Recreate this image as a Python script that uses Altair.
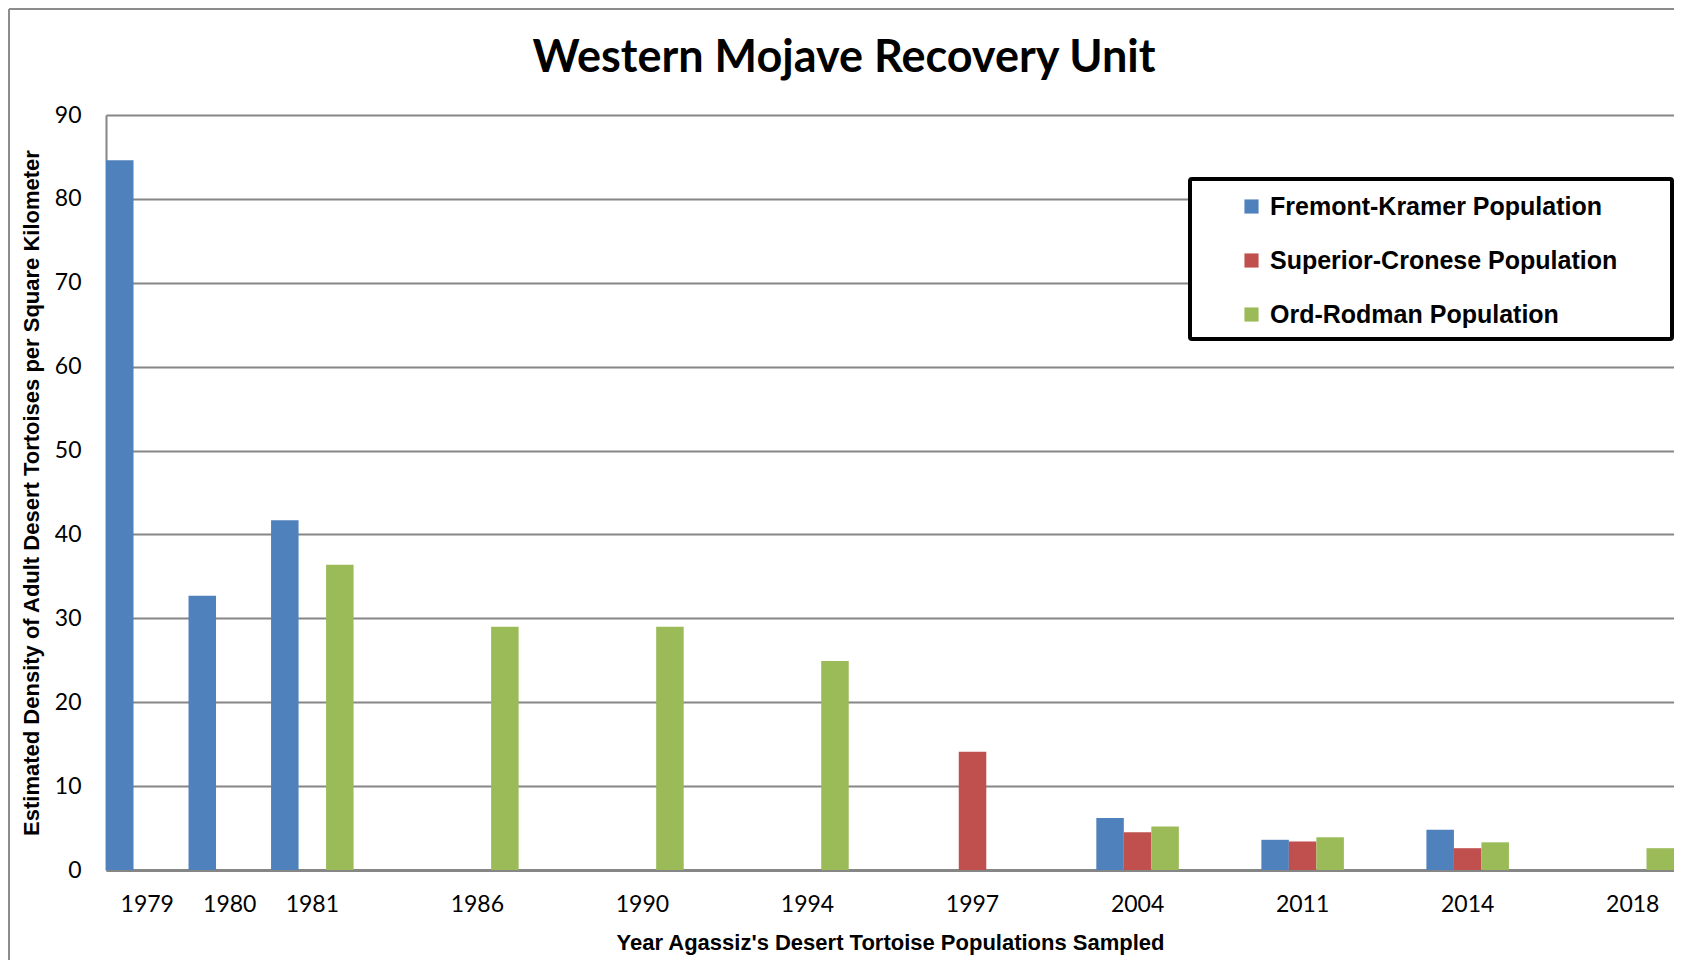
import altair as alt
import pandas as pd

# ---- data ----
years = ["1979", "1980", "1981", "1986", "1990", "1994", "1997", "2004", "2011", "2014", "2018"]
fremont_kramer = [84.6, 32.7, 41.7, None, None, None, None, 6.2, 3.6, 4.8, None]
superior_cronese = [None, None, None, None, None, None, 14.1, 4.5, 3.4, 2.6, None]
ord_rodman = [None, None, 36.4, 29.0, 29.0, 24.9, None, 5.2, 3.9, 3.3, 2.6]

# category slots on the x axis (blank slots between sampled years, as in the original)
axis_slots = ["1979", "1980", "1981", "gap1", "1986", "gap2", "1990", "gap3", "1994", "gap4",
              "1997", "gap5", "2004", "gap6", "2011", "gap7", "2014", "gap8", "2018"]
y_ticks = [0, 10, 20, 30, 40, 50, 60, 70, 80, 90]

series_names = ["Fremont-Kramer Population", "Superior-Cronese Population", "Ord-Rodman Population"]
series_colors = ["#4F81BD", "#C0504D", "#9BBB59"]

rows = []
for name, vals in zip(series_names, [fremont_kramer, superior_cronese, ord_rodman]):
    for yr, v in zip(years, vals):
        if v is not None:
            rows.append({"Year": yr, "Population": name, "Density": v})
df = pd.DataFrame(rows)

NARROW = "Liberation Sans Narrow, Liberation Sans, Arial Narrow, sans-serif"
GRID = "#868686"

W, H = 1568, 755

bars = alt.Chart(df).mark_bar().encode(
    x=alt.X(
        "Year:N",
        scale=alt.Scale(domain=axis_slots, paddingInner=0, paddingOuter=0),
        axis=alt.Axis(
            title="Year Agassiz's Desert Tortoise Populations Sampled",
            labelExpr="indexof(datum.label, 'gap') == 0 ? '' : datum.label",
            labelAngle=0,
            ticks=False,
            grid=False,
            domainColor=GRID,
            domainWidth=3,
            labelFont="Lato",
            labelFontSize=23,
            labelColor="black",
            labelPadding=23,
            titleFont=NARROW,
            titleFontSize=22,
            titleFontWeight="bold",
            titleColor="black",
            titlePadding=16,
        ),
    ),
    xOffset=alt.XOffset(
        "Population:N",
        scale=alt.Scale(domain=series_names, paddingInner=0, paddingOuter=0),
    ),
    y=alt.Y(
        "Density:Q",
        scale=alt.Scale(domain=[0, 90], nice=False),
        axis=alt.Axis(
            title="Estimated Density of Adult Desert Tortoises per Square Kilometer",
            values=y_ticks,
            ticks=False,
            grid=True,
            gridColor=GRID,
            gridWidth=2,
            domainColor=GRID,
            domainWidth=2,
            labelFont="Lato",
            labelFontSize=23,
            labelColor="black",
            labelPadding=25,
            titleFont=NARROW,
            titleFontSize=22,
            titleFontWeight="bold",
            titleColor="black",
            titlePadding=11,
        ),
    ),
    color=alt.Color(
        "Population:N",
        scale=alt.Scale(domain=series_names, range=series_colors),
        legend=alt.Legend(
            orient="none",
            legendX=1133,
            legendY=79,
            title=None,
            symbolType="square",
            symbolSize=200,
            symbolStrokeWidth=0,
            labelFont=NARROW,
            labelFontWeight="bold",
            labelFontSize=25,
            labelColor="black",
            labelOffset=6,
            labelLimit=0,
            rowPadding=28,
            padding=0,
        ),
    ),
)

legend_box = alt.Chart(alt.Data(values=[{}])).mark_rect(
    fill="white", stroke="black", strokeWidth=4, cornerRadius=2
).encode(
    x=alt.value(1084), x2=alt.value(1566), y=alt.value(64), y2=alt.value(224)
)

frame_top = alt.Chart(alt.Data(values=[{}])).mark_rule(color="#8c8c8c", strokeWidth=2).encode(
    x=alt.value(-97), x2=alt.value(W), y=alt.value(-106)
)
frame_left = alt.Chart(alt.Data(values=[{}])).mark_rule(color="#8c8c8c", strokeWidth=2).encode(
    x=alt.value(-97), y=alt.value(-106), y2=alt.value(H + 90)
)

chart = alt.layer(bars, legend_box, frame_top, frame_left).properties(
    width=W,
    height=H,
    padding={"left": 98, "top": 107, "right": 0, "bottom": 90},
    autosize=alt.AutoSizeParams(type="none"),
    title=alt.Title(
        "Western Mojave Recovery Unit",
        font="Lato",
        fontSize=45,
        fontWeight="bold",
        color="black",
        anchor="middle",
        dx=-46,
        offset=-73,
    ),
).configure_view(stroke=None).configure(background="white")

chart.save("out.html", embed_options={"renderer": "svg", "actions": False})
